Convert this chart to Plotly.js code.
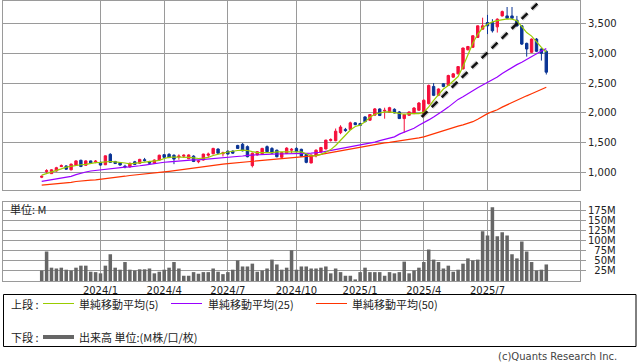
<!DOCTYPE html>
<html><head><meta charset="utf-8">
<script src="https://cdn.plot.ly/plotly-3.0.1.min.js"></script>
<style>html,body{margin:0;padding:0;background:#fff;}#chart{width:638px;height:362px;}</style>
</head><body><div id="chart"></div>
<script>
// ---- data (weekly) ----
const firstWeek = '2023-10-09';
const openP  = [915,1010,975,1020,1095,1105,1040,1115,1200,1115,1190,1170,1165,1125,1300,1180,1160,1100,1090,1175,1150,1210,1180,1150,1205,1295,1300,1285,1255,1270,1225,1270,1175,1205,1285,1310,1390,1310,1355,1355,1450,1470,1430,1110,1290,1310,1430,1400,1370,1250,1315,1370,1400,1385,1300,1155,1275,1340,1390,1535,1530,1665,1720,1718,1830,1818,1930,1875,1960,2064,2030,2008,2058,2014,1902,1958,1985,2042,1985,2153,2443,2295,2487,2460,2599,2655,2738,3060,3101,3268,3407,3519,3519,3446,3630,3630,3630,3558,3463,3168,3017,3240,3073,3034];
const highP  = [945,1050,1050,1090,1130,1115,1145,1200,1210,1200,1195,1205,1175,1280,1320,1190,1170,1125,1160,1190,1225,1240,1190,1215,1295,1300,1320,1300,1300,1300,1300,1285,1205,1310,1330,1410,1400,1345,1360,1365,1460,1490,1450,1330,1355,1410,1450,1420,1380,1340,1420,1405,1420,1395,1310,1295,1385,1425,1545,1570,1735,1790,1745,1850,1840,1830,1940,1975,2080,2075,2085,2100,2075,2030,1985,2020,2095,2180,2225,2475,2500,2410,2500,2640,2670,2785,3095,3125,3305,3470,3600,3647,3575,3590,3720,3780,3780,3630,3475,3180,3250,3257,3085,3050];
const lowP   = [900,975,970,1010,1085,1040,1030,1110,1085,1110,1145,1150,1110,1120,1160,1140,1110,1065,1075,1120,1140,1180,1140,1140,1200,1240,1240,1135,1210,1240,1220,1170,1150,1195,1250,1300,1310,1265,1300,1310,1390,1350,1250,1080,1280,1300,1335,1310,1250,1240,1305,1320,1335,1260,1150,1150,1250,1330,1385,1515,1520,1640,1680,1710,1790,1780,1840,1865,1950,1945,1900,2000,1990,1895,1663,1950,1980,2035,1930,2140,2280,2280,2430,2450,2590,2645,2730,3050,3095,3260,3400,3324,3350,3350,3620,3575,3580,3450,3140,2945,3005,3020,2878,2644];
const closeP = [930,1025,1040,1075,1110,1050,1135,1190,1095,1190,1150,1185,1120,1275,1165,1145,1120,1090,1150,1130,1215,1195,1150,1205,1285,1250,1245,1220,1270,1285,1290,1180,1190,1305,1305,1400,1320,1325,1305,1320,1400,1360,1260,1320,1345,1400,1345,1320,1260,1330,1405,1385,1345,1270,1165,1290,1370,1415,1540,1548,1690,1760,1700,1830,1800,1785,1850,1970,2065,1953,2040,2086,1997,1902,1970,2014,2080,2164,2210,2460,2293,2400,2443,2627,2655,2777,3090,3115,3296,3463,3463,3463,3380,3575,3703,3591,3591,3463,3156,3073,3240,3034,3000,2683];
const volumeM = [26,73,33,31,33,28,26,33,38,38,23,22,19,38,66,33,28,47,28,26,29,29,31,19,23,28,33,47,31,13,13,22,18,22,22,31,23,17,22,28,51,36,36,43,23,26,31,53,41,28,33,76,28,36,36,31,31,33,36,19,31,22,13,13,4,22,33,22,22,22,13,22,19,22,48,19,26,33,47,78,53,47,31,38,23,28,43,56,51,53,123,113,183,111,121,113,66,56,98,73,47,26,28,41];
const ma5  = [950,975,995,1030,1055,1085,1100,1115,1125,1130,1150,1160,1165,1175,1180,1175,1170,1155,1140,1150,1160,1175,1180,1185,1200,1230,1250,1255,1255,1255,1250,1240,1230,1235,1250,1280,1305,1320,1340,1355,1365,1370,1365,1345,1330,1330,1325,1330,1340,1340,1340,1345,1350,1340,1310,1275,1280,1300,1335,1380,1450,1540,1630,1710,1770,1791,1847,1925,1975,2000,2014,2014,2005,1990,1975,1985,1980,1985,2010,2100,2210,2300,2400,2460,2530,2610,2780,2970,3170,3320,3430,3490,3530,3550,3570,3580,3575,3550,3450,3350,3290,3190,3100,3020];
const ma25 = [845,858,872,885,900,915,930,958,985,1003,1020,1030,1040,1052,1065,1072,1078,1084,1090,1095,1108,1120,1133,1147,1160,1167,1173,1180,1188,1197,1205,1206,1206,1213,1220,1228,1232,1236,1240,1250,1260,1272,1284,1290,1295,1300,1302,1304,1306,1306,1306,1310,1314,1318,1318,1320,1325,1335,1350,1365,1378,1395,1410,1425,1440,1455,1470,1485,1505,1530,1555,1575,1595,1640,1670,1700,1740,1790,1830,1880,1930,1980,2040,2095,2160,2225,2270,2315,2370,2420,2465,2500,2550,2600,2660,2710,2770,2810,2850,2900,2945,2990,3040,3080];
const ma50 = [782,789,796,803,810,816,830,843,855,862,867,872,880,893,905,911,920,932,944,951,958,965,972,982,995,1005,1015,1027,1039,1052,1065,1077,1085,1097,1110,1120,1128,1136,1145,1152,1160,1168,1176,1180,1186,1192,1197,1204,1210,1218,1228,1238,1248,1258,1266,1272,1280,1300,1315,1330,1342,1360,1375,1392,1410,1426,1440,1455,1468,1480,1493,1503,1514,1526,1538,1549,1563,1578,1594,1620,1650,1680,1708,1734,1755,1775,1797,1818,1850,1890,1940,1985,2020,2050,2095,2135,2175,2215,2250,2285,2320,2360,2400,2430];
const priceTicks = [1000,1500,2000,2500,3000,3500];
const volTicks = [25,50,75,100,125,150,175];
const tickDates = ['2024-01-01','2024-04-01','2024-07-01','2024-10-07','2025-01-06','2025-04-07','2025-07-07'];
const tickLabels = ['2024/1','2024/4','2024/7','2024/10','2025/1','2025/4','2025/7'];
const trendWeek = [77.57, 101.16];   // week position of trend line ends
const trendPrice = [1930, 3836];
const legendNames = ['単純移動平均(5)','単純移動平均(25)','単純移動平均(50)'];

// weekly categories
const weeks = [];
{ const d0 = new Date(firstWeek + 'T00:00:00Z');
  for (let i = 0; i < closeP.length; i++) {
    const d = new Date(d0.getTime() + i * 7 * 86400000);
    weeks.push(d.toISOString().slice(0,10));
  } }
const xIdx = weeks.map((w, i) => i);
const tickIdx = tickDates.map(d => weeks.indexOf(d));

// ---- styling ----
const RED = '#f5103c', BLUE = '#0a3494';
const C5 = '#99cc00', C25 = '#9900ff', C50 = '#ff3300';
const GRID = '#9a9a9a';
const W = 638, H = 362, ML = 3, MR = 58, MT = 1, MB = 81;
const pw = W - ML - MR, ph = H - MT - MB;
const PX = x => (x - ML) / pw;
const PY = y => (H - MB - y) / ph;
const FONT = 'DejaVu Sans, sans-serif';
const JFONT = 'Noto Sans CJK JP, sans-serif';
const fig = '\u2007';

const traces = [
  {type:'scatter', mode:'lines', x:xIdx, y:ma50, line:{color:C50, width:1.2}, xaxis:'x', yaxis:'y', hoverinfo:'none'},
  {type:'scatter', mode:'lines', x:xIdx, y:ma25, line:{color:C25, width:1.2}, xaxis:'x', yaxis:'y', hoverinfo:'none'},
  {type:'candlestick', x:xIdx, open:openP, high:highP, low:lowP, close:closeP, xaxis:'x', yaxis:'y',
   increasing:{line:{color:RED, width:1}, fillcolor:RED},
   decreasing:{line:{color:BLUE, width:1}, fillcolor:BLUE},
   whiskerwidth:0, hoverinfo:'none'},
  {type:'scatter', mode:'lines', x:xIdx, y:ma5, line:{color:C5, width:1.2}, xaxis:'x', yaxis:'y', hoverinfo:'none'},
  {type:'scatter', mode:'lines', x:trendWeek, y:trendPrice, line:{color:'rgba(0,0,0,0.18)', width:5, dash:'8px,6px'}, xaxis:'x', yaxis:'y', hoverinfo:'none'},
  {type:'scatter', mode:'lines', x:trendWeek, y:trendPrice, line:{color:'#111', width:2.5, dash:'8px,6px'}, xaxis:'x', yaxis:'y', hoverinfo:'none'},
  {type:'bar', x:xIdx, y:volumeM, xaxis:'x2', yaxis:'y2', marker:{color:'#666666', line:{width:0}}, width:0.72, hoverinfo:'none'}
];

const xr = [-7.9, 109.88];
const commonX = {range:xr, tickvals:tickIdx, ticktext:tickLabels, showgrid:true, gridcolor:GRID, gridwidth:1,
  showline:true, mirror:true, linecolor:GRID, linewidth:1, zeroline:false, fixedrange:true};
const layout = {
  width:W, height:H, margin:{l:ML, r:MR, t:MT, b:MB, pad:0},
  paper_bgcolor:'#fff', plot_bgcolor:'#fff', showlegend:false, hovermode:false,
  font:{family:FONT, size:10, color:'#222'},
  xaxis: Object.assign({}, commonX, {anchor:'y', showticklabels:false, ticks:'', rangeslider:{visible:false}}),
  xaxis2: Object.assign({}, commonX, {anchor:'y2', showticklabels:true, ticks:'', tickfont:{family:FONT, size:10, color:'#222'}}),
  yaxis: {domain:[PY(190), 1], side:'right', range:[700, 3881], tickvals:priceTicks,
    ticktext:priceTicks.map(v => v.toLocaleString('en-US')),
    showgrid:true, gridcolor:GRID, ticks:'outside', ticklen:5, tickcolor:GRID,
    showline:true, mirror:true, linecolor:GRID, zeroline:false, tickfont:{family:FONT, size:10, color:'#222'}},
  yaxis2: {domain:[0, PY(201.7)], side:'right', anchor:'x2', range:[0, 196.5], tickvals:volTicks,
    ticktext:volTicks.map(v => (v < 100 ? fig : '') + v + 'M'),
    showgrid:true, gridcolor:GRID, ticks:'outside', ticklen:5, tickcolor:GRID,
    showline:true, mirror:true, linecolor:GRID, zeroline:false, tickfont:{family:FONT, size:10, color:'#222'}},
  shapes: [
    {type:'rect', xref:'paper', yref:'paper', x0:PX(3.5), x1:PX(636), y0:PY(346.5), y1:PY(294.5), line:{color:'#000', width:1}},
    {type:'line', xref:'paper', yref:'paper', x0:PX(43), x1:PX(74), y0:PY(303.5), y1:PY(303.5), line:{color:C5, width:1}},
    {type:'line', xref:'paper', yref:'paper', x0:PX(171), x1:PX(202), y0:PY(303.5), y1:PY(303.5), line:{color:C25, width:1}},
    {type:'line', xref:'paper', yref:'paper', x0:PX(316), x1:PX(347), y0:PY(303.5), y1:PY(303.5), line:{color:C50, width:1}},
    {type:'line', xref:'paper', yref:'paper', x0:PX(43), x1:PX(74), y0:PY(337), y1:PY(337), line:{color:'#666', width:4}}
  ],
  annotations: [
    {xref:'paper', yref:'paper', x:PX(8), y:PY(209), text:'単位: M', showarrow:false, xanchor:'left', yanchor:'middle', font:{family:JFONT, size:11, color:'#222'}},
    {xref:'paper', yref:'paper', x:PX(9), y:PY(303.5), text:'上段 :', showarrow:false, xanchor:'left', yanchor:'middle', font:{family:JFONT, size:11, color:'#222'}},
    {xref:'paper', yref:'paper', x:PX(77), y:PY(303.5), text:legendNames[0], showarrow:false, xanchor:'left', yanchor:'middle', font:{family:JFONT, size:11, color:'#222'}},
    {xref:'paper', yref:'paper', x:PX(206), y:PY(303.5), text:legendNames[1], showarrow:false, xanchor:'left', yanchor:'middle', font:{family:JFONT, size:11, color:'#222'}},
    {xref:'paper', yref:'paper', x:PX(350), y:PY(303.5), text:legendNames[2], showarrow:false, xanchor:'left', yanchor:'middle', font:{family:JFONT, size:11, color:'#222'}},
    {xref:'paper', yref:'paper', x:PX(9), y:PY(337), text:'下段 :', showarrow:false, xanchor:'left', yanchor:'middle', font:{family:JFONT, size:11, color:'#222'}},
    {xref:'paper', yref:'paper', x:PX(77), y:PY(337), text:'出来高 単位:(M株/口/枚)', showarrow:false, xanchor:'left', yanchor:'middle', font:{family:JFONT, size:11, color:'#222'}},
    {xref:'paper', yref:'paper', x:PX(619), y:PY(356), text:'(c)Quants Research Inc.', showarrow:false, xanchor:'right', yanchor:'middle', font:{family:FONT, size:10, color:'#444'}}
  ]
};
Plotly.newPlot('chart', traces, layout, {staticPlot:true, displayModeBar:false});
</script></body></html>
